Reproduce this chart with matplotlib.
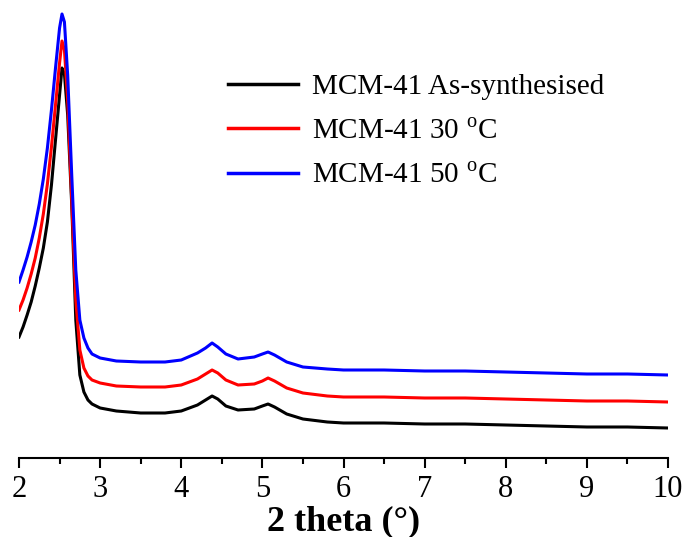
import numpy as np
import matplotlib
matplotlib.use("Agg")
import matplotlib.pyplot as plt

plt.rcParams['font.family'] = ['Liberation Serif', 'DejaVu Serif']
plt.rcParams['mathtext.fontset'] = 'custom'
plt.rcParams['mathtext.rm'] = 'Liberation Serif'

# 2 theta positions (degrees)
two_theta = [2.00, 2.05, 2.10, 2.15, 2.20, 2.25, 2.30, 2.35, 2.40, 2.45,
             2.50, 2.53, 2.56, 2.60, 2.65, 2.70, 2.75, 2.80, 2.85, 2.90,
             3.00, 3.20, 3.50, 3.80, 4.00, 4.20, 4.30, 4.38, 4.45, 4.55,
             4.70, 4.90, 5.00, 5.07, 5.15, 5.30, 5.50, 5.80, 6.00, 6.50,
             7.00, 7.50, 8.00, 8.50, 9.00, 9.50, 10.00]

# intensities (a.u.)
as_synth = [123, 133, 145, 158, 174, 192, 212, 238, 275, 320,
            365, 392, 386, 345, 255, 140, 85, 68, 60, 56,
            52, 49, 47, 47, 49, 55, 60, 64, 61, 54,
            50, 51, 54, 56, 53, 46, 41, 38, 37, 37,
            36, 36, 35, 34, 33, 33, 32]

t30 = [150, 160, 172, 186, 202, 222, 246, 276, 313, 355,
       397, 419, 410, 360, 260, 160, 110, 92, 84, 80,
       77, 74, 73, 73, 75, 81, 86, 90, 87, 80,
       75, 76, 79, 82, 79, 72, 67, 64, 63, 63,
       62, 62, 61, 60, 59, 59, 58]

t50 = [178, 190, 203, 218, 235, 256, 281, 312, 350, 392,
       432, 446, 438, 385, 285, 190, 140, 122, 112, 106,
       102, 99, 98, 98, 100, 107, 112, 117, 113, 106,
       101, 103, 106, 108, 105, 98, 93, 91, 90, 90,
       89, 89, 88, 87, 86, 86, 85]

labels = ['MCM-41 As-synthesised', 'MCM-41 30 $^{\\mathrm{o}}$C',
          'MCM-41 50 $^{\\mathrm{o}}$C']
colors = ['black', 'red', 'blue']

fig = plt.figure(figsize=(6.85, 5.37), dpi=100)
ax = fig.add_axes([19/685, 1 - 458/537, 649/685, 453/537])

for y, lab, c in zip([as_synth, t30, t50], labels, colors):
    ax.plot(two_theta, y, color=c, lw=2.2, label=lab)

ax.set_xlim(2, 10)
ax.set_ylim(2, 455)
ax.set_xticks(range(2, 11))
ax.set_xticks(np.arange(2.5, 10, 1), minor=True)
ax.set_yticks([])
for s in ['left', 'right', 'top']:
    ax.spines[s].set_visible(False)
ax.spines['bottom'].set_linewidth(1.5)
ax.tick_params(axis='x', which='major', direction='out', length=7, width=1.5,
               labelsize=22, pad=5)
ax.tick_params(axis='x', which='minor', direction='out', length=4, width=1.5)
ax.set_xlabel('2 theta (°)', fontsize=26, fontweight='bold', labelpad=1)

leg = ax.legend(loc='upper left', bbox_to_anchor=(216/685, 1 - 62/537),
                bbox_transform=fig.transFigure, frameon=False,
                fontsize=21, handlelength=2.4, handletextpad=0.5,
                labelspacing=0.62, borderaxespad=0)
for line in leg.get_lines():
    line.set_linewidth(2.5)

fig.savefig('out.png', dpi=100)
